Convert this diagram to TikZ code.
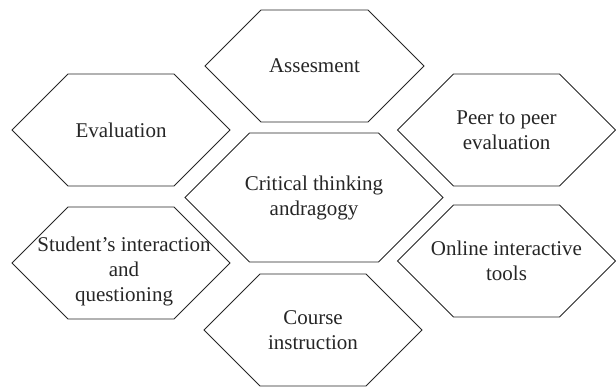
\documentclass[tikz,border=0pt]{standalone}
\usepackage{fontspec}
\setmainfont{Liberation Serif}
\usetikzlibrary{calc}
\tikzset{
  hexline/.style={draw=black!85, line width=0.8pt, line join=miter},
  hexlabel/.style={align=center, inner sep=0pt, text=black!85, font=\fontsize{21}{25}\selectfont}
}
\newcommand{\myhexagon}[5]{%
  \coordinate (#1) at (#2,#3);
  \draw[hexline] ($(#1)+(-#4,0)$) -- ++(#5,#5) -- ++({2*(#4-#5)},0) -- ++(#5,-#5)
     -- ++(-#5,-#5) -- ++({-2*(#4-#5)},0) -- cycle;
}
\begin{document}
\begin{tikzpicture}[x=1pt,y=1pt]
  \useasboundingbox (0,0) rectangle (616,388);
  \myhexagon{hAss}{314.5}{322}{109.5}{56}
  \myhexagon{hEval}{121}{258}{109}{56}
  \myhexagon{hPeer}{506.5}{258}{109}{56}
  \myhexagon{hCrit}{314}{190.5}{129}{64.5}
  \myhexagon{hStud}{121}{125}{109}{56}
  \myhexagon{hOnl}{506.5}{127}{109}{56}
  \myhexagon{hCour}{313}{58}{109}{56}
  \node[hexlabel] (tAss) at (hAss) {Assesment};
  \node[hexlabel] (tEval) at (hEval) {Evaluation};
  \node[hexlabel] (tPeer) at (hPeer) {Peer to peer\\evaluation};
  \node[hexlabel] (tCrit) at (hCrit) {Critical thinking\\andragogy};
  \node[hexlabel] (tStud) at ($(hStud)+(3,-8)$) {Student’s interaction\\and\\questioning};
  \node[hexlabel] (tOnl) at (hOnl) {Online interactive\\tools};
  \node[hexlabel] (tCour) at (hCour) {Course\\instruction};
\end{tikzpicture}
\end{document}
